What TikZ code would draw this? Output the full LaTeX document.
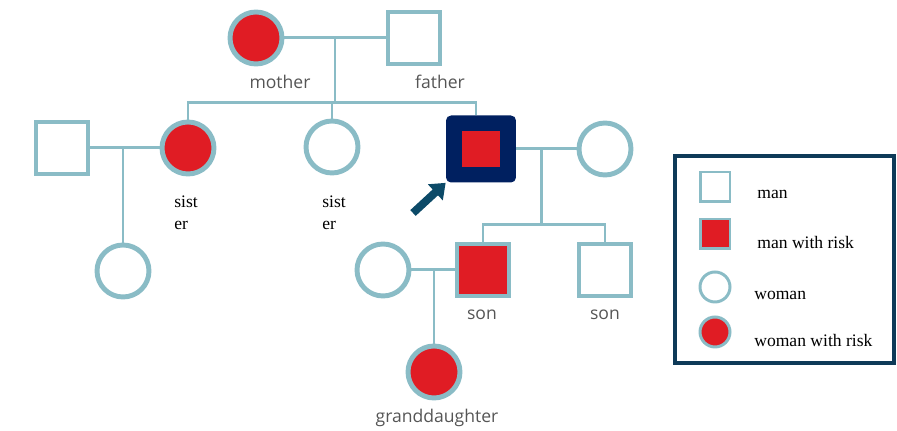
\documentclass[tikz,border=0pt]{standalone}
\usepackage{fontspec}
\setmainfont{Liberation Serif}
\newfontfamily\labelfont{Open Sans}
\usetikzlibrary{calc,arrows.meta}
\definecolor{C0}{RGB}{138,188,198}
\definecolor{C1}{RGB}{224,28,36}
\definecolor{C2}{RGB}{0,32,96}
\definecolor{C3}{RGB}{12,74,104}
\definecolor{C4}{RGB}{85,85,85}
\definecolor{C5}{RGB}{14,58,88}

\tikzset{
  man/.style={draw=C0, line width=2.8pt, minimum size=1.04cm, inner sep=0pt},
  woman/.style={man, circle},
  risk/.style={fill=C1},
  link/.style={draw=C0, line width=1.7pt},
  tag/.style={font=\labelfont\fontsize{10}{12}\selectfont, text=C4},
  note/.style={font=\fontsize{10}{12.5}\selectfont, align=left, anchor=north west, inner sep=0pt},
  keyman/.style={draw=C0, line width=1.7pt, minimum size=0.6cm, inner sep=0pt},
  keywoman/.style={keyman, circle},
  keytext/.style={font=\fontsize{10}{12}\selectfont, anchor=west, inner sep=0pt},
  pointer/.style={draw=C3, line width=4.5pt, -{Triangle[length=8pt,width=12pt]}},
}

\begin{document}
\begin{tikzpicture}[x=0.02cm, y=-0.02cm]
  \useasboundingbox (0,0) rectangle (897,431);

  % Parents.
  \node[woman,risk] (mother) at (256,38) {};
  \node[man] (father) at (414,38) {};
  \node[tag] (mothertag) at (280,82) {mother};
  \node[tag] (fathertag) at (440,82) {father};
  \draw[link] (mother) -- (father);
  \coordinate (mf) at ($(mother.east)!0.5!(father.west)$);
  \coordinate (sib) at (mf |- 0,103);
  \draw[link] (mf) -- (sib);

  % Children of the parents.
  \node[woman,risk] (sister1) at (188,148) {};
  \node[woman] (sister2) at (332,147) {};
  \node[fill=C2, rounded corners=0.1cm, minimum width=1.4cm, minimum height=1.34cm] (patient) at (481,149) {};
  \node[risk, minimum width=0.76cm, minimum height=0.72cm] (patientcore) at (patient) {};
  \coordinate (pt) at ($(patient.north)+(-5,0)$);
  \draw[link] (sister1.north) |- (sib) -| (pt);
  \draw[link] (sister2.north) -- (sister2.north |- sib);
  \node[note] (sister1tag) at (174,196) {sist\\er};
  \node[note] (sister2tag) at (322,196) {sist\\er};

  % Arrow on the patient.
  \coordinate (ptr) at (413,213);
  \draw[pointer] (ptr) -- (patient.south west);

  % Family of the sister.
  \node[man] (husband) at (62,148) {};
  \draw[link] (husband) -- (sister1);
  \node[woman] (niece) at (123,271) {};
  \draw[link] (niece.north |- husband) -- (niece.north);

  % Family of the patient.
  \node[woman] (wife) at (605,149) {};
  \draw[link] (patient) -- (wife);
  \coordinate (pw) at ($(patient.east)!0.42!(wife.west)$);
  \coordinate (sibs) at (pw |- 0,225);
  \draw[link] (pw) -- (sibs);
  \node[man,risk] (son1) at (483,270) {};
  \node[man] (son2) at (605,270) {};
  \draw[link] (son1.north) |- (sibs) -| (son2.north);
  \node[tag] (son1tag) at (482,315) {son};
  \node[tag] (son2tag) at (605,315) {son};

  % Family of the son.
  \node[woman] (inlaw) at (383,270) {};
  \draw[link] (inlaw) -- (son1);
  \node[woman,risk] (grand) at (434,372) {};
  \draw[link] (grand.north |- son1) -- (grand.north);
  \node[tag] (grandtag) at (437,418) {granddaughter};

  % Legend.
  \draw[draw=C5, line width=2.8pt] (675,156) rectangle (894,363);
  \node[keyman] (keyman) at (715,187) {};
  \node[keyman,risk] (keyriskman) at (715,234) {};
  \node[keywoman] (keywoman) at (715,287) {};
  \node[keywoman,risk] (keyriskwoman) at (715,332) {};
  \node[keytext] at (757,194) {man};
  \node[keytext] at (757,242) {man with risk};
  \node[keytext] at (754,295) {woman};
  \node[keytext] at (754,340) {woman with risk};

\end{tikzpicture}
\end{document}
